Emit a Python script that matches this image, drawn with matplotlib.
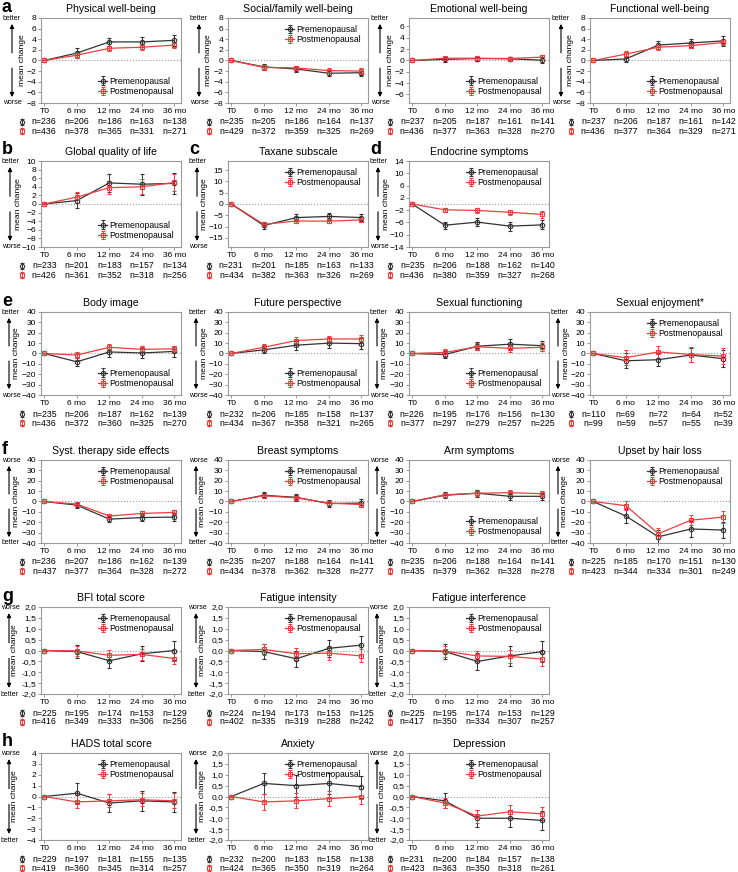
import numpy as np
import matplotlib.pyplot as plt
from matplotlib.transforms import offset_copy

plt.rcParams['font.family'] = ['Liberation Sans', 'DejaVu Sans']

timepoints = ["T0", "6 mo", "12 mo", "24 mo", "36 mo"]

# --- a: FACT-B subscales ---
physical_pre = [0, 1.4, 3.5, 3.5, 3.8]
physical_pre_err = [0, 0.9, 0.8, 1.0, 1.0]
physical_post = [0, 1.0, 2.3, 2.5, 2.9]
physical_post_err = [0, 0.5, 0.5, 0.6, 0.6]
physical_n_pre = [236, 206, 186, 163, 138]
physical_n_post = [436, 378, 365, 331, 271]

social_pre = [0, -1.2, -1.6, -2.4, -2.3]
social_pre_err = [0, 0.5, 0.5, 0.6, 0.7]
social_post = [0, -1.3, -1.4, -1.9, -2.0]
social_post_err = [0, 0.4, 0.4, 0.4, 0.5]
social_n_pre = [235, 205, 186, 164, 137]
social_n_post = [429, 372, 359, 325, 269]

emotional_pre = [0, 0.2, 0.35, 0.3, 0.05]
emotional_pre_err = [0, 0.4, 0.4, 0.4, 0.5]
emotional_post = [0, 0.4, 0.4, 0.35, 0.6]
emotional_post_err = [0, 0.3, 0.3, 0.3, 0.35]
emotional_n_pre = [237, 205, 187, 161, 141]
emotional_n_post = [436, 377, 363, 328, 270]

functional_pre = [0, 0.3, 2.9, 3.3, 3.7]
functional_pre_err = [0, 0.6, 0.8, 0.8, 1.0]
functional_post = [0, 1.2, 2.5, 2.8, 3.4]
functional_post_err = [0, 0.5, 0.5, 0.5, 0.5]
functional_n_pre = [237, 206, 187, 161, 142]
functional_n_post = [436, 377, 364, 329, 271]

# --- b, c, d ---
gqol_pre = [0, 0.8, 4.9, 4.6, 4.8]
gqol_pre_err = [0, 1.7, 2.1, 2.4, 2.4]
gqol_post = [0, 1.6, 3.8, 4.0, 5.0]
gqol_post_err = [0, 1.3, 1.5, 1.7, 2.0]
gqol_n_pre = [233, 201, 183, 157, 134]
gqol_n_post = [426, 361, 352, 318, 256]

taxane_pre = [0, -9.5, -6.0, -5.5, -6.0]
taxane_pre_err = [0, 1.5, 1.5, 1.5, 1.5]
taxane_post = [0, -9.0, -7.5, -7.6, -7.0]
taxane_post_err = [0, 1.0, 1.0, 1.0, 1.0]
taxane_n_pre = [231, 201, 185, 163, 133]
taxane_n_post = [434, 382, 363, 326, 269]

endocrine_pre = [0, -6.9, -5.9, -7.2, -6.8]
endocrine_pre_err = [0, 1.2, 1.2, 1.5, 1.5]
endocrine_post = [0, -1.9, -2.1, -2.7, -3.4]
endocrine_post_err = [0, 0.7, 0.7, 0.8, 1.0]
endocrine_n_pre = [235, 206, 188, 162, 140]
endocrine_n_post = [436, 380, 359, 327, 268]

# --- e: functional scales ---
body_pre = [0, -8, 1.5, 0.5, 2]
body_pre_err = [0, 4, 4.5, 4.5, 5]
body_post = [0, -1.5, 6, 4, 4.5]
body_post_err = [0, 3, 3, 3, 3]
body_n_pre = [235, 206, 187, 162, 139]
body_n_post = [436, 372, 360, 325, 270]

future_pre = [0, 3.5, 8, 10, 9.5]
future_pre_err = [0, 3.5, 4.5, 5, 5]
future_post = [0, 6, 12.5, 14, 14]
future_post_err = [0, 3, 3, 3, 3.5]
future_n_pre = [232, 206, 185, 158, 137]
future_n_post = [434, 367, 358, 321, 265]

sexfunc_pre = [0, -1, 7, 9, 7.5]
sexfunc_pre_err = [0, 3.5, 4, 4.5, 5]
sexfunc_post = [0, 1, 6.5, 5, 6]
sexfunc_post_err = [0, 3, 3.5, 3.5, 4]
sexfunc_n_pre = [226, 195, 176, 156, 130]
sexfunc_n_post = [377, 297, 279, 257, 225]

sexenj_pre = [0, -7, -6, -1.5, -5]
sexenj_pre_err = [0, 7, 6, 7, 8]
sexenj_post = [0, -4, 1.5, -1, -2.5]
sexenj_post_err = [0, 7, 6, 7, 8]
sexenj_n_pre = [110, 69, 72, 64, 52]
sexenj_n_post = [99, 59, 57, 55, 39]

# --- f: symptom scales ---
systemic_pre = [0, -3.5, -17, -15.5, -15]
systemic_pre_err = [0, 2.5, 3, 3, 3.5]
systemic_post = [0, -2.5, -14, -11.5, -10.5]
systemic_post_err = [0, 2, 2, 2, 2.5]
systemic_n_pre = [236, 207, 186, 162, 139]
systemic_n_post = [437, 377, 364, 328, 272]

breast_pre = [0, 6, 4, -2, -1.5]
breast_pre_err = [0, 3, 3.5, 3, 3.5]
breast_post = [0, 5.5, 3.5, -1.5, -3]
breast_post_err = [0, 2, 2.5, 2, 2]
breast_n_pre = [235, 207, 188, 164, 141]
breast_n_post = [434, 378, 362, 328, 277]

arm_pre = [0, 6, 8, 5, 5]
arm_pre_err = [0, 3, 3.5, 3.5, 3.5]
arm_post = [0, 6.5, 8, 8.5, 7.5]
arm_post_err = [0, 2, 2.5, 2.5, 2.5]
arm_n_pre = [235, 206, 188, 164, 141]
arm_n_post = [435, 379, 362, 328, 278]

hair_pre = [0, -14, -34, -26.5, -27.5]
hair_pre_err = [0, 7, 7, 7.5, 8]
hair_post = [0, -4, -31, -18, -15]
hair_post_err = [0, 4.5, 5, 5, 6]
hair_n_pre = [225, 185, 170, 151, 130]
hair_n_post = [423, 344, 334, 301, 249]

# --- g: fatigue ---
bfi_pre = [0, -0.05, -0.47, -0.15, 0.0]
bfi_pre_err = [0, 0.3, 0.35, 0.35, 0.45]
bfi_post = [0, -0.02, -0.22, -0.18, -0.37]
bfi_post_err = [0, 0.22, 0.25, 0.27, 0.27]
bfi_n_pre = [225, 195, 174, 153, 129]
bfi_n_post = [416, 349, 333, 306, 256]

fint_pre = [0, -0.05, -0.38, 0.1, 0.25]
fint_pre_err = [0, 0.35, 0.38, 0.4, 0.42]
fint_post = [0, 0.05, -0.15, -0.12, -0.25]
fint_post_err = [0, 0.25, 0.27, 0.3, 0.3]
fint_n_pre = [224, 194, 173, 153, 125]
fint_n_post = [402, 335, 319, 288, 242]

finter_pre = [0, -0.05, -0.5, -0.25, -0.05]
finter_pre_err = [0, 0.35, 0.4, 0.45, 0.48]
finter_post = [0, -0.03, -0.25, -0.27, -0.4]
finter_post_err = [0, 0.25, 0.25, 0.3, 0.3]
finter_n_pre = [225, 195, 174, 153, 129]
finter_n_post = [417, 350, 334, 307, 257]

# --- h: HADS ---
hads_pre = [0, 0.3, -0.6, -0.4, -0.5]
hads_pre_err = [0, 0.9, 0.8, 0.9, 0.9]
hads_post = [0, -0.5, -0.4, -0.3, -0.4]
hads_post_err = [0, 0.6, 0.6, 0.6, 0.7]
hads_n_pre = [229, 197, 181, 155, 135]
hads_n_post = [419, 360, 345, 314, 257]

anx_pre = [0, 0.6, 0.5, 0.6, 0.45]
anx_pre_err = [0, 0.5, 0.5, 0.5, 0.5]
anx_post = [0, -0.25, -0.2, -0.1, 0.0]
anx_post_err = [0, 0.35, 0.35, 0.35, 0.35]
anx_n_pre = [232, 200, 183, 158, 138]
anx_n_post = [424, 365, 350, 319, 264]

dep_pre = [0, -0.2, -1.0, -1.0, -1.1]
dep_pre_err = [0, 0.35, 0.4, 0.4, 0.45]
dep_post = [0, -0.3, -0.9, -0.7, -0.8]
dep_post_err = [0, 0.25, 0.3, 0.3, 0.3]
dep_n_pre = [231, 200, 184, 157, 138]
dep_n_post = [423, 363, 350, 318, 261]

PRE_COLOR = '#333333'
POST_COLOR = '#e8403f'
GREY = '#9a9a9a'

W, H = 738, 872
col_left = [41, 228, 409, 590]
ax_w = 140
rows = {'a': (18, 103), 'b': (161, 247), 'e': (312, 395),
        'f': (460, 543), 'g': (607, 694), 'h': (753, 840)}
# horizontal offsets (px from axis) of arrow, side word and "mean change"
label_x = {'a': (-29, -29, -19), 'b': (-31, -30, -23), 'e': (-32, -30, -24),
           'f': (-32, -30, -25), 'g': (-32, -31, -26), 'h': (-32, -31, -26)}

fig = plt.figure(figsize=(W / 100, H / 100), dpi=100)


def comma(vals):
    return [f"{v:.1f}".replace('.', ',') for v in vals]


def panel(row, col, title, pre, pre_err, post, post_err, n_pre, n_post,
          ylim, yticks, yticklabels=None, top='better', bottom='worse',
          loc='lower right', letter=None):
    top_px, bot_px = rows[row]
    left = col_left[col]
    h_px = bot_px - top_px
    ax = fig.add_axes([left / W, 1 - bot_px / H, ax_w / W, h_px / H])
    x = np.arange(len(timepoints))
    ax.axhline(0, color=GREY, ls=':', lw=0.8, zorder=0)
    ax.errorbar(x, pre, yerr=pre_err, color=PRE_COLOR, marker='o', ms=3.2,
                mfc='none', mew=0.8, lw=0.9, elinewidth=0.7, capsize=1.6,
                capthick=0.7, label='Premenopausal')
    ax.errorbar(x, post, yerr=post_err, color=POST_COLOR, marker='s', ms=3.2,
                mfc='none', mew=0.8, lw=0.9, elinewidth=0.7, capsize=1.6,
                capthick=0.7, label='Postmenopausal')
    ax.set_xlim(-0.1, 4.2)
    ax.set_ylim(*ylim)
    ax.set_yticks(yticks)
    if yticklabels is not None:
        ax.set_yticklabels(yticklabels)
    ax.set_xticks(x)
    ax.set_xticklabels(timepoints)
    for s in ax.spines.values():
        s.set_color(GREY)
        s.set_linewidth(0.8)
    ax.tick_params(axis='both', colors=GREY, labelcolor='black', labelsize=6.1,
                   length=2, width=0.7, pad=1.5)
    ax.set_title(title, fontsize=7.6, pad=4)
    ax.legend(loc=loc, fontsize=6.2, frameon=False, handlelength=1.0,
              handletextpad=0.3, labelspacing=0.15, borderaxespad=0.4)

    # y-axis annotation: arrows, "mean change", better/worse
    ax_px, word_px, text_px = label_x[row]
    xa = ax_px / ax_w
    xw = word_px / ax_w
    ax.annotate('', xy=(xa, 0.93), xytext=(xa, 0.59), xycoords='axes fraction',
                arrowprops=dict(arrowstyle='-|>', color='black', lw=0.8,
                                mutation_scale=6, shrinkA=0, shrinkB=0))
    ax.annotate('', xy=(xa, 0.07), xytext=(xa, 0.41), xycoords='axes fraction',
                arrowprops=dict(arrowstyle='-|>', color='black', lw=0.8,
                                mutation_scale=6, shrinkA=0, shrinkB=0))
    ax.text(text_px / ax_w, 0.5, 'mean change', transform=ax.transAxes,
            rotation=90, ha='center', va='center', fontsize=6.1)
    ax.text(xw, 0.99, top, transform=ax.transAxes, ha='center', va='center',
            fontsize=5.0)
    ax.text(xw, 0.0, bottom, transform=ax.transAxes, ha='center', va='center',
            fontsize=5.0)

    # n table below the axis
    for i in range(len(timepoints)):
        ax.annotate(f"n={n_pre[i]}", xy=(i, 0), xycoords=('data', 'axes fraction'),
                    xytext=(0, -19 * 0.72), textcoords='offset points',
                    ha='center', va='center', fontsize=6.3)
        ax.annotate(f"n={n_post[i]}", xy=(i, 0), xycoords=('data', 'axes fraction'),
                    xytext=(0, -28 * 0.72), textcoords='offset points',
                    ha='center', va='center', fontsize=6.3)
    for dy, color, mk in [(-19, PRE_COLOR, 'o'), (-28, POST_COLOR, 's')]:
        tr = offset_copy(ax.transAxes, fig=fig, x=-19, y=dy - h_px, units='dots')
        ax.plot([0], [1], transform=tr, marker=mk, ms=3, mfc='none', mew=0.8,
                color=color, clip_on=False)
        ax.plot([0], [1], transform=tr, marker='|', ms=6, mew=0.7,
                color=color, clip_on=False)
        for cap in (3, -3):
            trc = offset_copy(ax.transAxes, fig=fig, x=-19, y=dy - h_px + cap,
                              units='dots')
            ax.plot([0], [1], transform=trc, marker='_', ms=3.5, mew=0.7,
                    color=color, clip_on=False)

    if letter:
        fig.text((left - 39) / W, 1 - (top_px - 11) / H, letter, fontsize=13,
                 fontweight='bold', ha='left', va='center')
    return ax


t8 = [-8, -6, -4, -2, 0, 2, 4, 6, 8]
t40 = [-40, -30, -20, -10, 0, 10, 20, 30, 40]
t2 = [-2, -1.5, -1, -0.5, 0, 0.5, 1, 1.5, 2]

panel('a', 0, 'Physical well-being', physical_pre, physical_pre_err,
      physical_post, physical_post_err, physical_n_pre, physical_n_post,
      (-8, 8), t8, letter='a')
panel('a', 1, 'Social/family well-being', social_pre, social_pre_err,
      social_post, social_post_err, social_n_pre, social_n_post,
      (-8, 8), t8, loc='upper right')
panel('a', 2, 'Emotional well-being', emotional_pre, emotional_pre_err,
      emotional_post, emotional_post_err, emotional_n_pre, emotional_n_post,
      (-7.5, 7.5), [-6, -4, -2, 0, 2, 4, 6])
panel('a', 3, 'Functional well-being', functional_pre, functional_pre_err,
      functional_post, functional_post_err, functional_n_pre, functional_n_post,
      (-8, 8), t8)

panel('b', 0, 'Global quality of life', gqol_pre, gqol_pre_err,
      gqol_post, gqol_post_err, gqol_n_pre, gqol_n_post,
      (-10, 10), list(range(-10, 11, 2)), letter='b')
panel('b', 1, 'Taxane subscale', taxane_pre, taxane_pre_err,
      taxane_post, taxane_post_err, taxane_n_pre, taxane_n_post,
      (-19, 19), [-15, -10, -5, 0, 5, 10, 15], loc='upper right', letter='c')
panel('b', 2, 'Endocrine symptoms', endocrine_pre, endocrine_pre_err,
      endocrine_post, endocrine_post_err, endocrine_n_pre, endocrine_n_post,
      (-14, 14), [-14, -10, -6, -2, 2, 6, 10, 14], loc='upper right', letter='d')

panel('e', 0, 'Body image', body_pre, body_pre_err, body_post, body_post_err,
      body_n_pre, body_n_post, (-40, 40), t40, letter='e')
panel('e', 1, 'Future perspective', future_pre, future_pre_err, future_post,
      future_post_err, future_n_pre, future_n_post, (-40, 40), t40)
panel('e', 2, 'Sexual functioning', sexfunc_pre, sexfunc_pre_err, sexfunc_post,
      sexfunc_post_err, sexfunc_n_pre, sexfunc_n_post, (-40, 40), t40)
panel('e', 3, 'Sexual enjoyment*', sexenj_pre, sexenj_pre_err, sexenj_post,
      sexenj_post_err, sexenj_n_pre, sexenj_n_post, (-40, 40), t40,
      loc='upper right')

panel('f', 0, 'Syst. therapy side effects', systemic_pre, systemic_pre_err,
      systemic_post, systemic_post_err, systemic_n_pre, systemic_n_post,
      (-40, 40), t40, top='worse', bottom='better', loc='upper right', letter='f')
panel('f', 1, 'Breast symptoms', breast_pre, breast_pre_err, breast_post,
      breast_post_err, breast_n_pre, breast_n_post, (-40, 40), t40,
      top='worse', bottom='better', loc='upper right')
panel('f', 2, 'Arm symptoms', arm_pre, arm_pre_err, arm_post, arm_post_err,
      arm_n_pre, arm_n_post, (-40, 40), t40, top='worse', bottom='better')
panel('f', 3, 'Upset by hair loss', hair_pre, hair_pre_err, hair_post,
      hair_post_err, hair_n_pre, hair_n_post, (-40, 40), t40,
      top='worse', bottom='better', loc='upper right')

panel('g', 0, 'BFI total score', bfi_pre, bfi_pre_err, bfi_post, bfi_post_err,
      bfi_n_pre, bfi_n_post, (-2, 2), t2, comma(t2), top='worse',
      bottom='better', loc='upper right', letter='g')
panel('g', 1, 'Fatigue intensity', fint_pre, fint_pre_err, fint_post,
      fint_post_err, fint_n_pre, fint_n_post, (-2, 2), t2, comma(t2),
      top='worse', bottom='better', loc='upper right')
panel('g', 2, 'Fatigue interference', finter_pre, finter_pre_err, finter_post,
      finter_post_err, finter_n_pre, finter_n_post, (-2, 2), t2, comma(t2),
      top='worse', bottom='better', loc='upper right')

panel('h', 0, 'HADS total score', hads_pre, hads_pre_err, hads_post,
      hads_post_err, hads_n_pre, hads_n_post, (-4, 4), list(range(-4, 5)),
      top='worse', bottom='better', loc='upper right', letter='h')
panel('h', 1, 'Anxiety', anx_pre, anx_pre_err, anx_post, anx_post_err,
      anx_n_pre, anx_n_post, (-2, 2), t2, comma(t2), top='worse',
      bottom='better', loc='upper right')
panel('h', 2, 'Depression', dep_pre, dep_pre_err, dep_post, dep_post_err,
      dep_n_pre, dep_n_post, (-2, 2), t2, comma(t2), top='worse',
      bottom='better', loc='upper right')

fig.savefig('out.png', dpi=100)
